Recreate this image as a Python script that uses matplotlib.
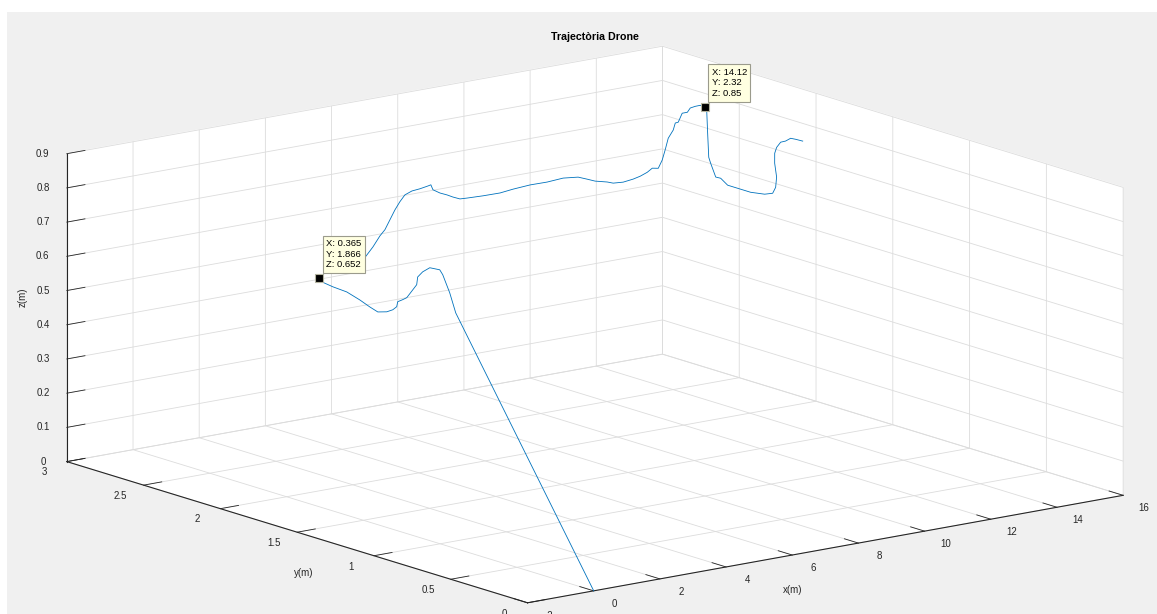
import numpy as np
import matplotlib
matplotlib.use("Agg")
import matplotlib.pyplot as plt
from matplotlib.patches import Rectangle
from matplotlib.transforms import ScaledTranslation
from mpl_toolkits.mplot3d import proj3d

# Logged drone positions (metres): take-off from the origin, then the flight path
x_m = [0.0,
       0.100, 0.112, 0.124, 0.136, 0.148, 0.160, 0.172, 0.184, 0.196, 0.208,
       0.220, 0.232, 0.244, 0.256, 0.268, 0.280, 0.292, 0.304, 0.316, 0.328,
       0.340, 0.352, 0.365,
       0.564, 1.278, 1.993, 2.279, 2.529, 2.707, 2.886, 3.065, 3.243, 3.422,
       3.672, 3.958, 4.244, 4.351, 4.423, 4.673, 4.923, 5.137, 5.387, 5.637,
       6.209, 6.817, 7.281, 7.888, 8.496, 9.068, 9.604, 9.925, 10.211, 10.640,
       10.854, 11.211, 11.569, 11.819, 12.069, 12.248, 12.462, 12.605, 12.712, 12.819,
       12.998, 13.069, 13.177, 13.320, 13.499, 13.605, 13.784, 13.963, 14.12,
       14.13, 14.14, 14.15, 14.16, 14.18, 14.20, 14.22, 14.24, 14.26, 14.28,
       14.30, 14.32, 14.34, 14.36, 14.38, 14.42, 14.50, 14.62, 14.74, 14.88, 15.05]
y_m = [0.0,
       0.920, 0.962, 1.010, 1.032, 1.067, 1.102, 1.151, 1.186, 1.195, 1.223,
       1.265, 1.294, 1.329, 1.338, 1.366, 1.408, 1.469, 1.524, 1.592, 1.679,
       1.772, 1.847, 1.866,
       1.872, 1.896, 1.920, 1.929, 1.937, 1.943, 1.949, 1.955, 1.961, 1.967,
       1.975, 1.985, 1.994, 1.998, 2.000, 2.008, 2.016, 2.024, 2.032, 2.040,
       2.059, 2.079, 2.094, 2.114, 2.134, 2.153, 2.171, 2.182, 2.191, 2.205,
       2.212, 2.224, 2.236, 2.244, 2.252, 2.258, 2.265, 2.270, 2.274, 2.277,
       2.283, 2.285, 2.289, 2.294, 2.299, 2.303, 2.309, 2.315, 2.32,
       2.309, 2.305, 2.300, 2.290, 2.261, 2.233, 2.192, 2.131, 2.051, 1.964,
       1.916, 1.901, 1.899, 1.916, 1.920, 1.916, 1.907, 1.901, 1.894, 1.891, 1.882]
z_m = [0.0,
       0.684, 0.737, 0.783, 0.794, 0.792, 0.790, 0.771, 0.751, 0.727, 0.708,
       0.679, 0.669, 0.658, 0.642, 0.629, 0.617, 0.608, 0.615, 0.626, 0.637,
       0.639, 0.643, 0.652,
       0.662, 0.667, 0.675, 0.700, 0.727, 0.741, 0.766, 0.791, 0.811, 0.827,
       0.833, 0.833, 0.835, 0.836, 0.820, 0.805, 0.794, 0.783, 0.772, 0.769,
       0.763, 0.758, 0.759, 0.758, 0.753, 0.752, 0.743, 0.730, 0.718, 0.706,
       0.698, 0.693, 0.694, 0.697, 0.703, 0.711, 0.706, 0.727, 0.754, 0.786,
       0.806, 0.825, 0.825, 0.848, 0.847, 0.857, 0.858, 0.857, 0.85,
       0.841, 0.774, 0.704, 0.688, 0.651, 0.651, 0.636, 0.635, 0.634, 0.640,
       0.649, 0.668, 0.698, 0.736, 0.764, 0.781, 0.796, 0.798, 0.805, 0.800, 0.793]

# Data tips
tip_x = [0.365, 14.12]
tip_y = [1.866, 2.32]
tip_z = [0.652, 0.85]

# Axis ticks
x_ticks = [-2, 0, 2, 4, 6, 8, 10, 12, 14, 16]
y_ticks = [0, 0.5, 1, 1.5, 2, 2.5, 3]
z_ticks = [0, 0.1, 0.2, 0.3, 0.4, 0.5, 0.6, 0.7, 0.8, 0.9]

TITLE = "Trajectòria Drone"
X_LABEL, Y_LABEL, Z_LABEL = "x(m)", "y(m)", "z(m)"

W, H, DPI = 1157, 614, 100
INK = "#262626"
plt.rcParams.update({
    "font.family": ["Liberation Sans", "DejaVu Sans"],
    "font.size": 7,
    "grid.color": "#dcdcdc",
    "grid.linewidth": 0.6,
    "xtick.color": INK, "ytick.color": INK,
    "xtick.labelsize": 7, "ytick.labelsize": 7,
    "xtick.major.width": 0.6, "ytick.major.width": 0.6,
    "axes.edgecolor": INK,
})

fig = plt.figure(figsize=(W / DPI, H / DPI), dpi=DPI, facecolor="white")
# grey window background with a thin white margin at top/left
fig.patches.append(Rectangle((7 / W, 0), 1 - 7 / W, 1 - 12 / H,
                             transform=fig.transFigure, facecolor="#f0f0f0",
                             edgecolor="none", zorder=-10))

ax = fig.add_axes([0.25, 0.0, H / W, 1.0], projection="3d", proj_type="ortho")
ax.patch.set_visible(False)
ax.view_init(elev=13.6, azim=-127.5)
ax.set_box_aspect((1.0, 1.008, 0.422))

ax.plot(x_m, y_m, z_m, color="#0072BD", lw=0.6)

ax.set_xlim(x_ticks[0], x_ticks[-1])
ax.set_ylim(y_ticks[0], y_ticks[-1])
ax.set_zlim(z_ticks[0], z_ticks[-1])
ax.set_xticks(x_ticks)
ax.set_yticks(y_ticks)
ax.set_zticks(z_ticks)
ax.set_xticklabels([f"{v:g}" for v in x_ticks])
ax.set_yticklabels([f"{v:g}" for v in y_ticks])
ax.set_zticklabels([f"{v:g}" for v in z_ticks])

for axis in (ax.xaxis, ax.yaxis, ax.zaxis):
    axis.set_pane_color((1, 1, 1, 1))
    axis.pane.set_edgecolor("white")
    axis.line.set_color(INK)
    axis.line.set_linewidth(0.8)
    try:
        axis._axinfo["tick"]["inward_factor"] = 0.0
        axis._axinfo["tick"]["outward_factor"] = 0.38
        axis._axinfo["tick"]["linewidth"] = {True: 0.6, False: 0.5}
        axis._axinfo["tick"]["color"] = INK
    except Exception:
        pass
ax.grid(True)


def shift_tick_labels(axis, dx_px, dy_px):
    """Nudge an axis' tick labels by a fixed screen offset (pixels)."""
    base = axis.get_major_ticks
    offset = ScaledTranslation(dx_px / DPI, dy_px / DPI, fig.dpi_scale_trans)

    def ticks_with_offset(numticks=None):
        ticks = base(numticks)
        for t in ticks:
            t.label1.set_transform(ax.transData + offset)
        return ticks

    axis.get_major_ticks = ticks_with_offset


shift_tick_labels(ax.xaxis, 8, 5)
shift_tick_labels(ax.yaxis, -6, 6)
shift_tick_labels(ax.zaxis, 6, 4)

# Fit the square 3D axes so the plot box spans the window
fig.canvas.draw()
M = ax.get_proj()
xl, yl, zl = ax.get_xlim(), ax.get_ylim(), ax.get_zlim()
corners = np.array([[xl[0], yl[1], zl[0]],
                    [xl[1], yl[0], zl[1]],
                    [xl[0], yl[0], zl[0]],
                    [xl[1], yl[1], zl[1]]])
targets = np.array([[67, 462], [1123, 187], [528, 603], [662, 46]], float)
targets[:, 1] = H - targets[:, 1]
px, py, _ = proj3d.proj_transform(corners[:, 0], corners[:, 1], corners[:, 2], M)
pix = ax.transData.transform(np.column_stack([px, py]))
pos = ax.get_position()
ox0, oy0, s0 = pos.x0 * W, pos.y0 * H, pos.width * W
f = (pix - [ox0, oy0]) / s0
A = np.zeros((8, 3))
b = np.zeros(8)
A[0::2, 0] = 1
A[0::2, 2] = f[:, 0]
A[1::2, 1] = 1
A[1::2, 2] = f[:, 1]
b[0::2] = targets[:, 0]
b[1::2] = targets[:, 1]
ox, oy, s = np.linalg.lstsq(A, b, rcond=None)[0]
ax.set_position([ox / W, oy / H, s / W, s / H])
fig.canvas.draw()

# Data tips
M = ax.get_proj()
tx, ty, _ = proj3d.proj_transform(np.array(tip_x, float), np.array(tip_y, float),
                                  np.array(tip_z, float), M)
ax.plot(tip_x, tip_y, tip_z, ls="none", marker="s", ms=5.5, mfc="black",
        mec="#b4b4a0", mew=0.8)
for i in range(len(tip_x)):
    label = f"X: {tip_x[i]:g}\nY: {tip_y[i]:g}\nZ: {tip_z[i]:g}"
    ax.annotate(label, xy=(tx[i], ty[i]), xycoords="data",
                xytext=(5, 6), textcoords="offset points",
                ha="left", va="bottom", fontsize=6.8, color="black",
                linespacing=1.25,
                bbox=dict(boxstyle="square,pad=0.35", fc="#ffffe1",
                          ec="#9b9b8c", lw=0.8))

fig.text(595 / W, 1 - 37 / H, TITLE, ha="center", va="center",
         fontsize=7.7, fontweight="bold", color="black")
fig.text(793 / W, 1 - 590 / H, X_LABEL, ha="center", va="center", fontsize=7, color=INK)
fig.text(304 / W, 1 - 573 / H, Y_LABEL, ha="center", va="center", fontsize=7, color=INK)
fig.text(23 / W, 1 - 297 / H, Z_LABEL, ha="center", va="center", fontsize=7,
         color=INK, rotation=90)

fig.savefig("out.png", dpi=DPI, facecolor="white")
